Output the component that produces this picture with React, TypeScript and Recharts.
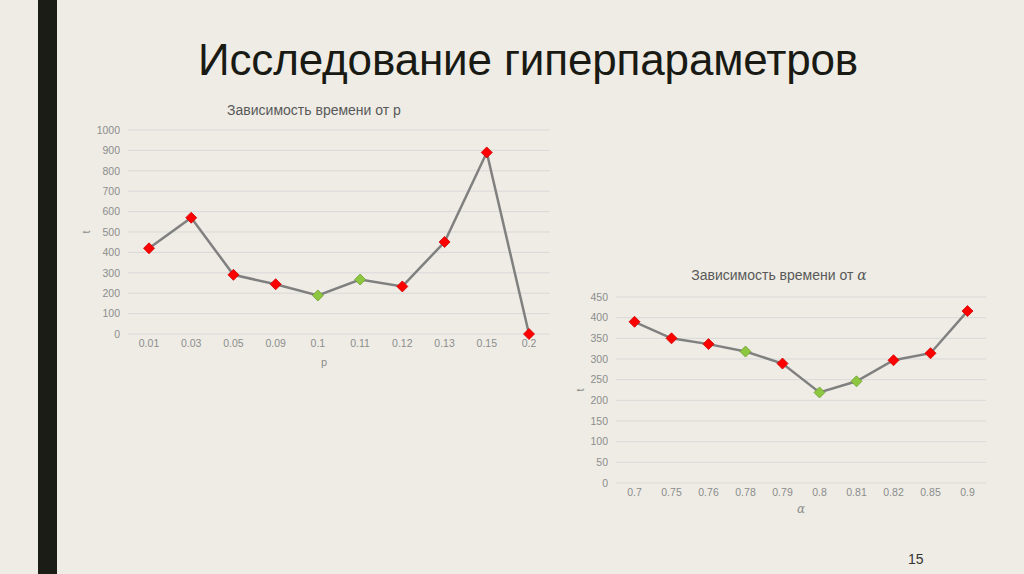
import React from 'react';
import { LineChart, Line, XAxis, YAxis, CartesianGrid, Label } from 'recharts';

// time vs p
const pLabels = ['0.01', '0.03', '0.05', '0.09', '0.1', '0.11', '0.12', '0.13', '0.15', '0.2'];
const pTimes = [420, 570, 290, 244, 189, 267, 233, 451, 890, 0];
const pBest = ['0.1', '0.11'];
const pTicks = [0, 100, 200, 300, 400, 500, 600, 700, 800, 900, 1000];

// time vs alpha
const alphaLabels = ['0.7', '0.75', '0.76', '0.78', '0.79', '0.8', '0.81', '0.82', '0.85', '0.9'];
const alphaTimes = [390, 350, 336, 318, 289, 219, 246, 297, 314, 416];
const alphaBest = ['0.78', '0.8', '0.81'];
const alphaTicks = [0, 50, 100, 150, 200, 250, 300, 350, 400, 450];

const BG = '#EEECE5';
const GRID = '#D9D9D9';
const TICK = '#8C8C8C';
const FONT = '"Liberation Sans", Arial, sans-serif';

const tickStyle = { fill: TICK, fontSize: 10.5, fontFamily: FONT };

const makeDiamond = (best: string[]) => (props: any) => {
  const { cx, cy, payload, index } = props;
  if (cx == null || cy == null) return <g key={index} />;
  const good = best.includes(payload.x);
  const r = 5.5;
  return (
    <polygon
      key={index}
      points={`${cx},${cy - r} ${cx + r},${cy} ${cx},${cy + r} ${cx - r},${cy}`}
      fill={good ? '#8DC63F' : '#FF0000'}
      stroke={good ? '#6E9E34' : '#D00000'}
      strokeWidth={0.8}
    />
  );
};

const axisText = (text: string, dx: number, dy: number, rotate: boolean, italic = false) =>
  (props: any) => {
    const vb = props.viewBox;
    const x = rotate ? vb.x + dx : vb.x + vb.width / 2 + dx;
    const y = rotate ? vb.y + vb.height / 2 + dy : vb.y + dy;
    return (
      <text
        x={x}
        y={y}
        textAnchor="middle"
        dominantBaseline="central"
        transform={rotate ? `rotate(-90 ${x} ${y})` : undefined}
        fill={TICK}
        fontSize={italic ? 12 : 11}
        fontStyle={italic ? 'italic' : 'normal'}
        fontFamily={italic ? '"DejaVu Serif", serif' : FONT}
      >
        {text}
      </text>
    );
  };

const chartTitle: React.CSSProperties = {
  position: 'absolute',
  fontFamily: FONT,
  fontSize: 14,
  color: '#595959',
  whiteSpace: 'nowrap',
  transform: 'translate(-50%, -50%)',
};

export default function App() {
  const pData = pLabels.map((x, i) => ({ x, t: pTimes[i] }));
  const alphaData = alphaLabels.map((x, i) => ({ x, t: alphaTimes[i] }));

  return (
    <div style={{ position: 'absolute', left: 0, top: 0, width: 1024, height: 574, background: BG, overflow: 'hidden' }}>
      <div style={{ position: 'absolute', left: 38, top: 0, width: 19, height: 574, background: '#1B1C15' }} />
      <div
        style={{
          position: 'absolute',
          left: 198,
          top: 32,
          fontFamily: FONT,
          fontSize: 44,
          letterSpacing: -0.15,
          color: '#1A1A14',
          whiteSpace: 'nowrap',
          lineHeight: '56px',
        }}
      >
        Исследование гиперпараметров
      </div>

      <div style={{ ...chartTitle, left: 314, top: 110 }}>Зависимость времени от p</div>
      <div style={{ position: 'absolute', left: 80, top: 95 }}>
        <LineChart width={480} height={280} data={pData} margin={{ top: 35, right: 10, left: 0, bottom: 0 }}>
          <CartesianGrid vertical={false} stroke={GRID} />
          <XAxis
            dataKey="x"
            height={41}
            tickLine={false}
            axisLine={false}
            tickMargin={0}
            tick={tickStyle}
            padding={{ left: 21, right: 21 }}
            interval={0}
          >
            <Label content={axisText('p', -15, 28, false)} />
          </XAxis>
          <YAxis
            width={48}
            domain={[0, 1000]}
            ticks={pTicks}
            tickLine={false}
            axisLine={false}
            tick={tickStyle}
            interval={0}
          >
            <Label content={axisText('t', 6, 0, true)} />
          </YAxis>
          <Line
            dataKey="t"
            stroke="#808080"
            strokeWidth={2.5}
            dot={makeDiamond(pBest)}
            activeDot={false}
            isAnimationActive={false}
          />
        </LineChart>
      </div>

      <div style={{ ...chartTitle, left: 779, top: 275 }}>
        Зависимость времени от{' '}
        <span style={{ fontFamily: '"DejaVu Serif", serif', fontStyle: 'italic' }}>α</span>
      </div>
      <div style={{ position: 'absolute', left: 570, top: 262 }}>
        <LineChart width={425} height={265} data={alphaData} margin={{ top: 35, right: 9, left: 0, bottom: 0 }}>
          <CartesianGrid vertical={false} stroke={GRID} />
          <XAxis
            dataKey="x"
            height={44}
            tickLine={false}
            axisLine={false}
            tickMargin={0}
            tick={tickStyle}
            padding={{ left: 18.5, right: 18.5 }}
            interval={0}
          >
            <Label content={axisText('α', 0, 26, false, true)} />
          </XAxis>
          <YAxis
            width={46}
            domain={[0, 450]}
            ticks={alphaTicks}
            tickLine={false}
            axisLine={false}
            tick={tickStyle}
            interval={0}
          >
            <Label content={axisText('t', 10, 0, true)} />
          </YAxis>
          <Line
            dataKey="t"
            stroke="#808080"
            strokeWidth={2.5}
            dot={makeDiamond(alphaBest)}
            activeDot={false}
            isAnimationActive={false}
          />
        </LineChart>
      </div>

      <div style={{ position: 'absolute', left: 908, top: 551, fontFamily: FONT, fontSize: 14, color: '#333' }}>15</div>
    </div>
  );
}
